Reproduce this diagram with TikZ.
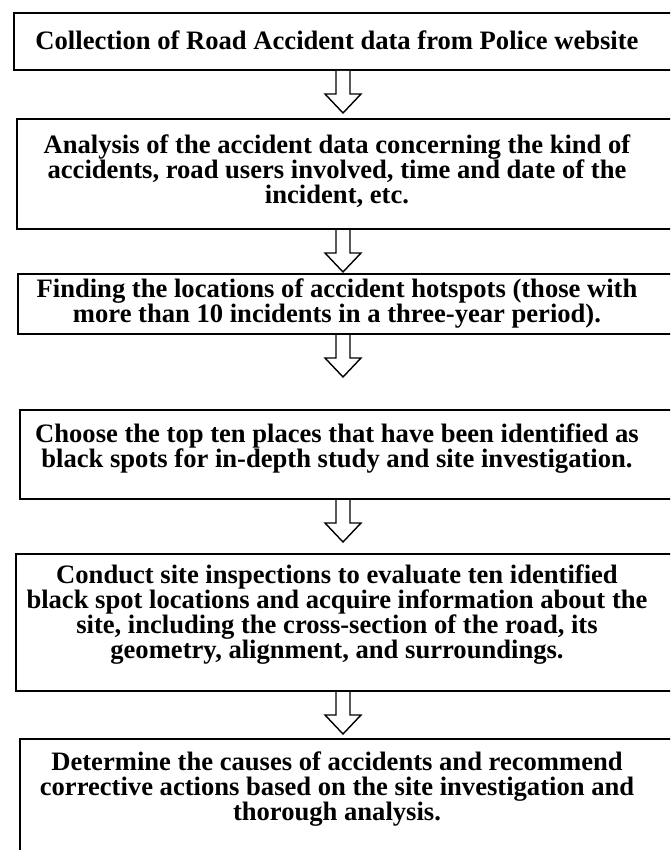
\documentclass[tikz,border=0pt]{standalone}
\usepackage{fontspec}
\setmainfont{Liberation Serif}
\usetikzlibrary{positioning,calc}

\tikzset{
  stepbox/.style={draw, line width=2pt, inner sep=0pt, anchor=north west},
  steptext/.style={font=\bfseries\fontsize{26.6}{25}\selectfont, align=center, inner sep=0pt},
  downarrow/.style={draw, line width=1.4pt, fill=white, line join=miter},
}

% hollow block arrow, 42pt long, from the bottom of one box towards the next
\newcommand{\blockarrow}[2]{%
  \path ($(axis |- #1.south)!42pt!(axis |- #2.north)$) coordinate (tip);
  \draw[downarrow] ($(axis |- #1.south)+(-7pt,0pt)$) -- ($(tip)+(-7pt,19pt)$)
    -- ($(tip)+(-18pt,19pt)$) -- (tip) -- ($(tip)+(18pt,19pt)$) -- ($(tip)+(7pt,19pt)$)
    -- ($(axis |- #1.south)+(7pt,0pt)$);}

\begin{document}
\begin{tikzpicture}[x=1pt,y=-1pt]
  \useasboundingbox (0,0) rectangle (670,850);
  \fill[white] (0,0) rectangle (670,850);
  \clip (0,0) rectangle (670,850);
  \coordinate (axis) at (343,0);

  % boxes
  \node[stepbox, minimum width=677pt, minimum height=57pt] (s1) at (13,12) {};
  \node[stepbox, minimum width=674pt, minimum height=110pt] (s2) at (16,118) {};
  \node[stepbox, minimum width=673pt, minimum height=60pt] (s3) at (17,273) {};
  \node[stepbox, minimum width=671pt, minimum height=89pt] (s4) at (19,409) {};
  \node[stepbox, minimum width=675pt, minimum height=137pt] (s5) at (15,553) {};
  \node[stepbox, minimum width=671pt, minimum height=140pt] (s6) at (19,738) {};

  % texts
  \node[steptext] (t1) at (337,40) {Collection of Road Accident data from Police website};
  \node[steptext] (t2) at (337,171) {Analysis of the accident data concerning the kind of\\accidents, road users involved, time and date of the\\incident, etc.};
  \node[steptext] (t3) at (337,303.5) {Finding the locations of accident hotspots (those with\\more than 10 incidents in a three-year period).};
  \node[steptext] (t4) at (337,449) {Choose the top ten places that have been identified as\\black spots for in-depth study and site investigation.};
  \node[steptext] (t5) at (337,615) {Conduct site inspections to evaluate ten identified\\black spot locations and acquire information about the\\site, including the cross-section of the road, its\\geometry, alignment, and surroundings.};
  \node[steptext] (t6) at (337,789) {Determine the causes of accidents and recommend\\corrective actions based on the site investigation and\\thorough analysis.};

  % arrows
  \blockarrow{s1}{s2}
  \blockarrow{s2}{s3}
  \blockarrow{s3}{s4}
  \blockarrow{s4}{s5}
  \blockarrow{s5}{s6}
\end{tikzpicture}
\end{document}
